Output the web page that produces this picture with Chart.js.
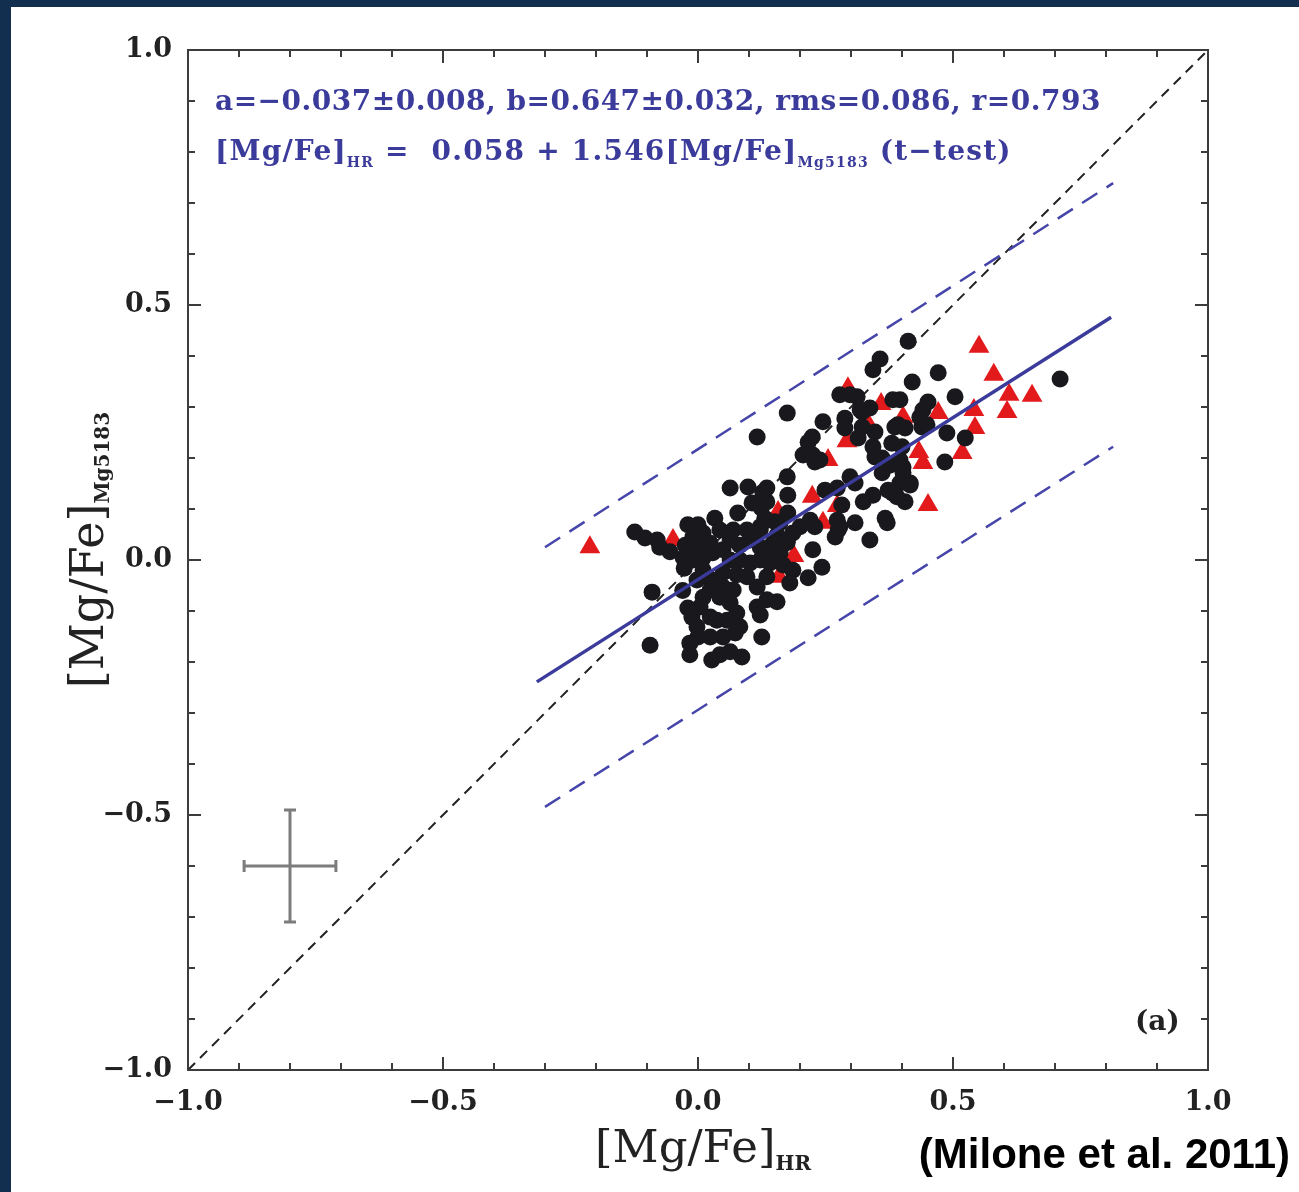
<!DOCTYPE html>
<html>
<head>
<meta charset="utf-8">
<script src="https://cdn.jsdelivr.net/npm/chart.js@4.4.0/dist/chart.umd.min.js"></script>
<style>
  html, body { margin: 0; padding: 0; width: 1299px; height: 1192px; overflow: hidden; background: #132f4f; }
  #wrap { position: absolute; left: 11px; top: 7px; width: 1288px; height: 1185px; background: #fff; }
</style>
</head>
<body>
<div id="wrap"><canvas id="c"></canvas></div>
<script>
// axis labels
const axisTicks = [-1, -0.5, 0, 0.5, 1];

// black circles: [Mg/Fe]_HR vs [Mg/Fe]_Mg5183
const circlesX = [0.412, 0.471, 0.420, 0.357, 0.343, 0.710, 0.504, 0.396, 0.451, 0.441, 0.386, 0.406, 0.439, 0.488, 0.524,
  0.380, 0.400, 0.484, 0.361, 0.402, 0.396, 0.416, 0.382, 0.406, 0.367, 0.175, 0.245, 0.116, 0.224, 0.216,
  0.206, 0.229, 0.175, 0.135, 0.176, 0.135, 0.131, 0.151, 0.171, 0.147, 0.225, 0.278, 0.312, 0.288, 0.288,
  0.314, 0.322, 0.337, 0.347, 0.322, 0.343, 0.392, 0.435, 0.347, 0.376, 0.361, 0.343, 0.324, 0.308, 0.298,
  0.273, 0.249, 0.282, 0.273, 0.275, 0.308, 0.337, 0.371, 0.186, 0.161, 0.122, 0.063, 0.098, 0.127, 0.106,
  0.124, 0.176, 0.220, 0.229, -0.020, 0.000, 0.033, 0.078, -0.124, -0.104, -0.080, -0.075, -0.055, -0.025, -0.010,
  0.010, 0.043, 0.069, 0.096, 0.116, 0.155, 0.161, 0.141, 0.122, 0.102, 0.082, 0.063, 0.024, 0.004, -0.016,
  -0.029, -0.010, 0.010, 0.029, 0.049, 0.063, 0.082, 0.102, 0.122, 0.141, 0.167, 0.186, 0.216, 0.180, 0.135,
  0.116, 0.096, 0.076, 0.049, 0.037, 0.018, 0.010, -0.002, 0.049, 0.069, 0.043, 0.063, 0.024, 0.010, 0.004,
  -0.020, -0.012, -0.002, 0.024, 0.037, 0.057, 0.076, 0.082, 0.116, 0.122, 0.155, 0.135, 0.125, 0.073, 0.049,
  0.024, 0.000, -0.016, -0.016, 0.027, 0.043, 0.063, -0.094, -0.090, 0.200, 0.269, 0.278, 0.243, -0.027, -0.030,
  0.298, 0.318, 0.382, 0.449, 0.396, 0.402, 0.373, 0.390, 0.416, 0.225, 0.239, 0.175, 0.135, 0.086, 0.122, 0.175];
const circlesY = [0.429, 0.367, 0.349, 0.394, 0.373, 0.355, 0.320, 0.314, 0.310, 0.294, 0.261, 0.259, 0.261, 0.249, 0.239,
  0.229, 0.222, 0.192, 0.200, 0.182, 0.151, 0.151, 0.131, 0.114, 0.082, 0.288, 0.271, 0.241, 0.241, 0.231,
  0.206, 0.192, 0.163, 0.141, 0.127, 0.114, 0.082, 0.075, 0.033, 0.033, 0.020, 0.324, 0.320, 0.278, 0.259,
  0.239, 0.290, 0.298, 0.251, 0.261, 0.222, 0.265, 0.280, 0.202, 0.186, 0.171, 0.127, 0.114, 0.151, 0.163,
  0.141, 0.137, 0.108, 0.078, 0.059, 0.073, 0.039, 0.073, 0.053, 0.073, 0.065, 0.141, 0.143, 0.133, 0.112,
  0.102, 0.092, 0.078, 0.065, 0.069, 0.069, 0.082, 0.092, 0.055, 0.043, 0.039, 0.025, 0.016, 0.029, 0.045,
  0.053, 0.059, 0.059, 0.059, 0.049, 0.049, 0.014, 0.016, 0.025, 0.039, 0.029, 0.039, 0.033, 0.025, 0.020,
  0.004, 0.000, 0.004, 0.014, 0.020, 0.000, 0.000, -0.006, 0.000, -0.006, -0.010, -0.020, -0.035, -0.045, -0.033,
  -0.053, -0.033, -0.029, -0.025, -0.039, -0.033, -0.020, -0.039, -0.053, -0.059, -0.073, -0.084, -0.059, -0.073, -0.092,
  -0.094, -0.112, -0.131, -0.112, -0.118, -0.118, -0.104, -0.131, -0.092, -0.108, -0.082, -0.078, -0.151, -0.143, -0.151,
  -0.151, -0.151, -0.163, -0.186, -0.196, -0.186, -0.180, -0.167, -0.063, 0.065, 0.045, 0.065, -0.014, -0.016, -0.060,
  0.324, 0.294, 0.314, 0.265, 0.196, 0.171, 0.137, 0.124, 0.147, 0.206, 0.196, 0.039, 0.078, -0.190, 0.059, 0.035];

// red triangles
const trianglesX = [-0.212, -0.049, 0.551, 0.580, 0.610, 0.655, 0.606, 0.541, 0.543, 0.518, 0.471, 0.433, 0.441,
  0.451, 0.359, 0.402, 0.294, 0.331, 0.292, 0.255, 0.224, 0.273, 0.157, 0.245, 0.188, 0.159];
const trianglesY = [0.025, 0.039, 0.418, 0.363, 0.324, 0.322, 0.290, 0.294, 0.259, 0.210, 0.288, 0.212, 0.190,
  0.108, 0.306, 0.280, 0.337, 0.271, 0.233, 0.196, 0.124, 0.106, 0.094, 0.073, 0.008, -0.033];

// lines
const oneToOneX = [-1, 1];
const oneToOneY = [-1, 1];
const fitX = [-0.316, 0.810];
const fitY = [-0.239, 0.476];
const upperX = [-0.300, 0.814];
const upperY = [0.025, 0.739];
const lowerX = [-0.300, 0.814];
const lowerY = [-0.484, 0.222];

// typical error bar
const errCenter = [-0.80, -0.60];
const errX = 0.09;
const errY = 0.11;

const blue = '#3b3b9b';
const pts = (xs, ys) => xs.map((x, i) => ({ x: x, y: ys[i] }));
const fmt = v => (v < 0 ? '\u2212' : '') + Math.abs(v).toFixed(1);

function drawParts(ctx, x, y, parts) {
  parts.forEach(p => {
    ctx.font = p.font;
    ctx.fillText(p.text, x, y + (p.dy || 0));
    x += ctx.measureText(p.text).width;
  });
  return x;
}
function partsWidth(ctx, parts) {
  let w = 0;
  parts.forEach(p => { ctx.font = p.font; w += ctx.measureText(p.text).width; });
  return w;
}

const decor = {
  id: 'decor',
  afterDatasetsDraw(chart) {
    const ctx = chart.ctx;
    const xs = chart.scales.x, ys = chart.scales.y;
    const a = chart.chartArea;

    // error bar
    const cx = xs.getPixelForValue(errCenter[0]), cy = ys.getPixelForValue(errCenter[1]);
    const x0 = xs.getPixelForValue(errCenter[0] - errX), x1 = xs.getPixelForValue(errCenter[0] + errX);
    const y0 = ys.getPixelForValue(errCenter[1] - errY), y1 = ys.getPixelForValue(errCenter[1] + errY);
    ctx.save();
    ctx.strokeStyle = '#7c7c7c';
    ctx.lineWidth = 3;
    ctx.beginPath();
    ctx.moveTo(x0, cy); ctx.lineTo(x1, cy);
    ctx.moveTo(cx, y0); ctx.lineTo(cx, y1);
    ctx.moveTo(x0, cy - 6); ctx.lineTo(x0, cy + 6);
    ctx.moveTo(x1, cy - 6); ctx.lineTo(x1, cy + 6);
    ctx.moveTo(cx - 6, y0); ctx.lineTo(cx + 6, y0);
    ctx.moveTo(cx - 6, y1); ctx.lineTo(cx + 6, y1);
    ctx.stroke();

    // frame and inward ticks
    ctx.strokeStyle = '#3c3c3c';
    ctx.lineWidth = 2;
    ctx.strokeRect(a.left, a.top, a.right - a.left, a.bottom - a.top);
    ctx.beginPath();
    for (let i = -10; i <= 10; i++) {
      const v = i / 10;
      const len = (i % 5 === 0) ? 13 : 7;
      const px = xs.getPixelForValue(v), py = ys.getPixelForValue(v);
      ctx.moveTo(px, a.bottom); ctx.lineTo(px, a.bottom - len);
      ctx.moveTo(px, a.top); ctx.lineTo(px, a.top + len);
      ctx.moveTo(a.left, py); ctx.lineTo(a.left + len, py);
      ctx.moveTo(a.right, py); ctx.lineTo(a.right - len, py);
    }
    ctx.stroke();

    // fit annotations
    ctx.fillStyle = blue;
    ctx.textBaseline = 'alphabetic';
    ctx.textAlign = 'left';
    const big = 'bold 28px "DejaVu Serif"', sub = 'bold 14px "DejaVu Serif"';
    ctx.letterSpacing = '0.5px';
    drawParts(ctx, 204, 103, [{ text: 'a=\u22120.037\u00b10.008, b=0.647\u00b10.032, rms=0.086, r=0.793', font: big }]);
    ctx.letterSpacing = '1.2px';
    drawParts(ctx, 204, 153, [
      { text: '[Mg/Fe]', font: big }, { text: 'HR', font: sub, dy: 7 },
      { text: ' =  0.058 + 1.546[Mg/Fe]', font: big }, { text: 'Mg5183', font: sub, dy: 7 },
      { text: ' (t\u2212test)', font: big }
    ]);
    ctx.letterSpacing = '0px';

    // panel label
    ctx.fillStyle = '#222';
    drawParts(ctx, 1124, 1023, [{ text: '(a)', font: 'bold 28px "DejaVu Serif"' }]);

    // axis titles
    const tbig = '45px "DejaVu Serif"', tsub = 'bold 20px "DejaVu Serif"';
    drawParts(ctx, 584, 1155, [{ text: '[Mg/Fe]', font: tbig }, { text: 'HR', font: tsub, dy: 8 }]);
    const yParts = [{ text: '[Mg/Fe]', font: '46px "DejaVu Serif"' }, { text: 'Mg5183', font: tsub, dy: 6 }];
    const w = partsWidth(ctx, yParts);
    ctx.save();
    ctx.translate(92, 543);
    ctx.rotate(-Math.PI / 2);
    drawParts(ctx, -w / 2, 0, yParts);
    ctx.restore();

    // source
    ctx.fillStyle = '#000';
    ctx.textAlign = 'right';
    ctx.font = 'bold 42px "Liberation Sans"';
    ctx.fillText('(Milone et al. 2011)', 1279, 1161);
    ctx.restore();
  }
};

const tickFont = { family: 'DejaVu Serif', weight: 'bold', size: 27 };

new Chart(document.getElementById('c').getContext('2d'), {
  type: 'scatter',
  data: {
    datasets: [
      { type: 'line', data: pts(oneToOneX, oneToOneY), borderColor: '#222', borderWidth: 2, borderDash: [10, 7],
        pointRadius: 0, fill: false, order: 6 },
      { data: pts(trianglesX, trianglesY), pointStyle: 'triangle', pointRadius: 12, backgroundColor: '#e31a1c',
        borderWidth: 0, order: 5 },
      { data: pts(circlesX, circlesY), pointStyle: 'circle', pointRadius: 8.5, backgroundColor: '#18181d',
        borderWidth: 0, order: 4 },
      { type: 'line', data: pts(upperX, upperY), borderColor: '#4545aa', borderWidth: 2.5, borderDash: [18, 11],
        pointRadius: 0, fill: false, order: 3 },
      { type: 'line', data: pts(lowerX, lowerY), borderColor: '#4545aa', borderWidth: 2.5, borderDash: [18, 11],
        pointRadius: 0, fill: false, order: 2 },
      { type: 'line', data: pts(fitX, fitY), borderColor: blue, borderWidth: 3.5, pointRadius: 0, fill: false, order: 1 }
    ]
  },
  options: {
    responsive: true,
    maintainAspectRatio: false,
    animation: false,
    layout: { padding: { left: 0, right: 91, top: 43, bottom: 0 } },
    plugins: { legend: { display: false }, tooltip: { enabled: false } },
    scales: {
      x: {
        type: 'linear', min: -1, max: 1,
        afterBuildTicks: s => { s.ticks = axisTicks.map(v => ({ value: v })); },
        afterFit: s => { s.height = 122; },
        ticks: { callback: fmt, font: tickFont, color: '#222', padding: 9, maxRotation: 0, autoSkip: false },
        grid: { display: false }, border: { display: false }
      },
      y: {
        type: 'linear', min: -1, max: 1,
        afterBuildTicks: s => { s.ticks = axisTicks.map(v => ({ value: v })); },
        afterFit: s => { s.width = 177; },
        ticks: { callback: fmt, font: tickFont, color: '#222', padding: 8, autoSkip: false },
        grid: { display: false }, border: { display: false }
      }
    }
  },
  plugins: [decor]
});
</script>
</body>
</html>
